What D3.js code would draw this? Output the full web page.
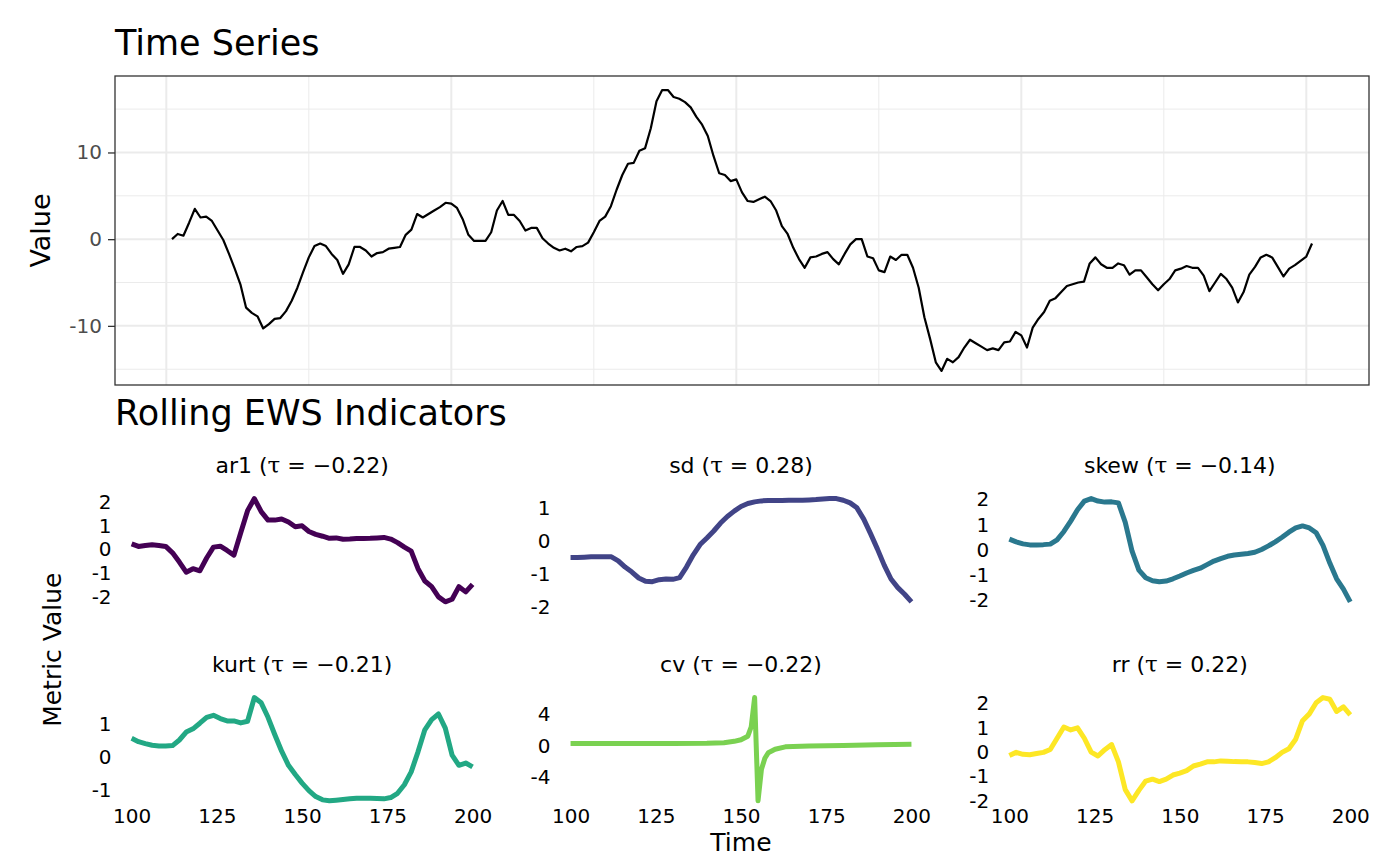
<!DOCTYPE html>
<html>
<head>
<meta charset="utf-8">
<script src="https://cdn.jsdelivr.net/npm/d3@7"></script>
<style>
  body { margin: 0; background: #fff; }
  svg { display: block; font-family: "DejaVu Sans", sans-serif; }
</style>
</head>
<body>
<svg id="chart" width="1400" height="866"></svg>
<script>
// ---- data ----
const tsTime = d3.range(1, 202);
const tsValues = [
  0.0, 0.6, 0.4, 1.9, 3.5, 2.5, 2.6, 2.1, 1.0, -0.1,
  -1.7, -3.4, -5.2, -7.9, -8.5, -8.9, -10.3, -9.8, -9.2, -9.1,
  -8.3, -7.1, -5.6, -3.8, -2.1, -0.8, -0.5, -0.8, -1.7, -2.4,
  -4.0, -2.9, -0.9, -0.9, -1.3, -2.0, -1.6, -1.5, -1.1, -1.0,
  -0.9, 0.5, 1.1, 2.9, 2.5, 2.9, 3.3, 3.7, 4.2, 4.1,
  3.6, 2.3, 0.5, -0.2, -0.2, -0.2, 0.8, 3.3, 4.4, 2.8,
  2.8, 2.1, 1.0, 1.3, 1.3, 0.1, -0.5, -1.0, -1.3, -1.1,
  -1.4, -0.9, -0.8, -0.4, 0.8, 2.1, 2.6, 3.8, 5.7, 7.4,
  8.7, 8.8, 10.2, 10.5, 12.8, 15.9, 17.2, 17.2, 16.4, 16.2,
  15.8, 15.2, 14.1, 13.2, 11.9, 9.6, 7.6, 7.4, 6.7, 6.9,
  5.4, 4.4, 4.3, 4.6, 4.9, 4.4, 3.3, 1.5, 0.6, -1.0,
  -2.3, -3.3, -2.1, -2.0, -1.7, -1.5, -2.3, -2.9, -1.7, -0.6,
  0.0, 0.0, -2.0, -2.2, -3.6, -3.8, -2.0, -2.4, -1.8, -1.8,
  -3.3, -5.6, -9.0, -11.5, -14.2, -15.2, -13.8, -14.2, -13.6, -12.5,
  -11.6, -12.0, -12.4, -12.8, -12.6, -12.8, -11.9, -11.8, -10.7, -11.1,
  -12.5, -10.2, -9.2, -8.4, -7.1, -6.8, -6.1, -5.4, -5.2, -5.0,
  -4.9, -2.8, -2.1, -2.9, -3.3, -3.3, -2.8, -3.0, -4.1, -3.6,
  -3.6, -4.4, -5.2, -5.9, -5.2, -4.6, -3.6, -3.4, -3.1, -3.3,
  -3.3, -4.2, -6.0, -5.0, -4.0, -4.6, -5.6, -7.3, -6.1, -4.1,
  -3.2, -2.1, -1.8, -2.1, -3.2, -4.3, -3.4, -3.0, -2.5, -2.0,
  -0.5
];
const tsYTicks = [-10, 0, 10];
const tsYMinor = [-15, -5, 5, 15];
const tsXTicks = [0, 50, 100, 150, 200];
const tsXMinor = [25, 75, 125, 175];

const ewsTime = d3.range(100, 201, 2);
const ar1Values = [
  0.24, 0.13, 0.17, 0.20, 0.17, 0.13, -0.14, -0.53, -0.96, -0.81,
  -0.90, -0.36, 0.10, 0.14, -0.04, -0.24, 0.71, 1.64, 2.15, 1.60,
  1.24, 1.24, 1.29, 1.16, 0.96, 1.00, 0.76, 0.64, 0.56, 0.47,
  0.49, 0.43, 0.44, 0.46, 0.46, 0.47, 0.49, 0.51, 0.44, 0.29,
  0.10, -0.07, -0.81, -1.33, -1.57, -2.00, -2.21, -2.10, -1.57, -1.79,
  -1.47
];
const sdValues = [
  -0.49, -0.49, -0.48, -0.47, -0.47, -0.47, -0.47, -0.59, -0.78, -0.93,
  -1.11, -1.21, -1.22, -1.16, -1.14, -1.15, -1.10, -0.78, -0.41, -0.10,
  0.10, 0.31, 0.55, 0.75, 0.91, 1.05, 1.14, 1.19, 1.22, 1.23,
  1.23, 1.23, 1.24, 1.24, 1.24, 1.25, 1.26, 1.28, 1.29, 1.29,
  1.24, 1.16, 1.01, 0.67, 0.23, -0.23, -0.72, -1.14, -1.40, -1.60,
  -1.83
];
const skewValues = [
  0.43, 0.32, 0.24, 0.20, 0.20, 0.21, 0.23, 0.40, 0.73, 1.14,
  1.59, 1.93, 2.03, 1.93, 1.89, 1.90, 1.86, 1.09, -0.05, -0.80,
  -1.10, -1.22, -1.26, -1.23, -1.14, -1.03, -0.91, -0.81, -0.72, -0.58,
  -0.44, -0.34, -0.25, -0.20, -0.17, -0.14, -0.09, 0.02, 0.16, 0.32,
  0.50, 0.70, 0.87, 0.95, 0.87, 0.68, 0.18, -0.52, -1.14, -1.55,
  -2.05
];
const kurtValues = [
  0.58, 0.48, 0.42, 0.37, 0.35, 0.35, 0.36, 0.53, 0.77, 0.87,
  1.04, 1.22, 1.28, 1.18, 1.11, 1.11, 1.05, 1.10, 1.82, 1.66,
  1.22, 0.69, 0.19, -0.24, -0.52, -0.78, -1.01, -1.19, -1.29, -1.32,
  -1.30, -1.28, -1.26, -1.24, -1.24, -1.24, -1.25, -1.26, -1.22, -1.09,
  -0.83, -0.44, 0.17, 0.84, 1.15, 1.32, 0.89, 0.07, -0.24, -0.17,
  -0.29
];
const cvTime = [100, 110, 120, 130, 140, 145, 148, 150, 152, 153, 154, 155, 156, 157, 158, 160, 163, 170, 180, 190, 200];
const cvValues = [0.27, 0.27, 0.27, 0.28, 0.30, 0.38, 0.55, 0.75, 1.2, 2.4, 6.1, -7.0, -3.0, -1.6, -0.9, -0.45, -0.15, -0.05, 0.02, 0.10, 0.19];
const rrValues = [
  -0.14, -0.01, -0.09, -0.11, -0.06, -0.01, 0.11, 0.57, 1.03, 0.91,
  1.00, 0.57, 0.00, -0.16, 0.10, 0.31, -0.40, -1.54, -2.00, -1.57,
  -1.19, -1.11, -1.21, -1.11, -0.94, -0.86, -0.76, -0.57, -0.49, -0.40,
  -0.40, -0.36, -0.37, -0.39, -0.40, -0.40, -0.43, -0.47, -0.40, -0.23,
  -0.01, 0.14, 0.53, 1.29, 1.57, 2.03, 2.24, 2.17, 1.67, 1.86,
  1.53
];

const metricNames = ['ar1', 'sd', 'skew', 'kurt', 'cv', 'rr'];
const metricTau = [-0.22, 0.28, -0.14, -0.21, -0.22, 0.22];
const metricColors = ['#440154', '#414487', '#2A788E', '#22A884', '#7AD151', '#FDE725'];
const metricYTicks = [[-2, -1, 0, 1, 2], [-2, -1, 0, 1], [-2, -1, 0, 1, 2], [-1, 0, 1], [-4, 0, 4], [-2, -1, 0, 1, 2]];
const ewsXTicks = [100, 125, 150, 175, 200];

// ---- helpers ----
const svg = d3.select('#chart');

function expand(ext, frac = 0.05) {
  const pad = (ext[1] - ext[0]) * frac;
  return [ext[0] - pad, ext[1] + pad];
}

// ---- top panel: time series ----
const tp = { left: 115, right: 1369, top: 76, bottom: 385 };
const tx = d3.scaleLinear().domain(expand(d3.extent(tsTime))).range([tp.left, tp.right]);
const ty = d3.scaleLinear().domain(expand(d3.extent(tsValues))).range([tp.bottom, tp.top]);

svg.append('text')
  .attr('x', 115).attr('y', 55)
  .attr('font-size', 35)
  .text('Time Series');

const grid = svg.append('g');
grid.selectAll('.hmin').data(tsYMinor).enter().append('line')
  .attr('x1', tp.left).attr('x2', tp.right)
  .attr('y1', d => ty(d)).attr('y2', d => ty(d))
  .attr('stroke', '#EBEBEB').attr('stroke-width', 1);
grid.selectAll('.vmin').data(tsXMinor).enter().append('line')
  .attr('y1', tp.top).attr('y2', tp.bottom)
  .attr('x1', d => tx(d)).attr('x2', d => tx(d))
  .attr('stroke', '#EBEBEB').attr('stroke-width', 1);
grid.selectAll('.hmaj').data(tsYTicks).enter().append('line')
  .attr('x1', tp.left).attr('x2', tp.right)
  .attr('y1', d => ty(d)).attr('y2', d => ty(d))
  .attr('stroke', '#EBEBEB').attr('stroke-width', 2);
grid.selectAll('.vmaj').data(tsXTicks).enter().append('line')
  .attr('y1', tp.top).attr('y2', tp.bottom)
  .attr('x1', d => tx(d)).attr('x2', d => tx(d))
  .attr('stroke', '#EBEBEB').attr('stroke-width', 2);

svg.append('path')
  .datum(tsTime.map((t, i) => [t, tsValues[i]]))
  .attr('fill', 'none')
  .attr('stroke', '#000')
  .attr('stroke-width', 2.2)
  .attr('stroke-linejoin', 'round')
  .attr('d', d3.line().x(d => tx(d[0])).y(d => ty(d[1])));

svg.append('rect')
  .attr('x', tp.left).attr('y', tp.top)
  .attr('width', tp.right - tp.left).attr('height', tp.bottom - tp.top)
  .attr('fill', 'none').attr('stroke', '#333333').attr('stroke-width', 1.3);

const yAxisTop = svg.append('g')
  .attr('transform', `translate(${tp.left},0)`)
  .call(d3.axisLeft(ty).tickValues(tsYTicks).tickSize(7).tickPadding(6).tickFormat(d3.format('d')));
yAxisTop.select('.domain').remove();
yAxisTop.selectAll('line').attr('stroke', '#333333').attr('stroke-width', 1.3);
yAxisTop.selectAll('text')
  .attr('fill', '#4D4D4D')
  .attr('font-size', 20)
  .attr('font-family', '"DejaVu Sans", sans-serif')
  .text(d => String(d));

svg.append('text')
  .attr('transform', `translate(40,${(tp.top + tp.bottom) / 2}) rotate(-90)`)
  .attr('text-anchor', 'middle')
  .attr('dominant-baseline', 'central')
  .attr('font-size', 27)
  .text('Value');

// ---- bottom facets: rolling indicators ----
svg.append('text')
  .attr('x', 115).attr('y', 425)
  .attr('font-size', 35)
  .text('Rolling EWS Indicators');

const metricSeries = [
  { t: ewsTime, v: ar1Values },
  { t: ewsTime, v: sdValues },
  { t: ewsTime, v: skewValues },
  { t: ewsTime, v: kurtValues },
  { t: cvTime, v: cvValues },
  { t: ewsTime, v: rrValues }
];

const colLeft = [114.6, 553.5, 992.3];
const rowTop = [493.4, 692.4];
const panelW = 375;
const panelH = 113.6;
const fmtTau = d3.format('.2f');

metricNames.forEach((name, i) => {
  const col = i % 3;
  const row = Math.floor(i / 3);
  const left = colLeft[col];
  const topY = rowTop[row];
  const s = metricSeries[i];
  const x = d3.scaleLinear().domain([95, 205]).range([left, left + panelW]);
  const y = d3.scaleLinear().domain(expand(d3.extent(s.v))).range([topY + panelH, topY]);
  const g = svg.append('g');

  // strip title, tau drawn in a serif face like plotmath does
  const title = g.append('text')
    .attr('x', left + panelW / 2)
    .attr('y', topY - 20)
    .attr('text-anchor', 'middle')
    .attr('font-size', 22);
  title.append('tspan').text(name + ' (');
  title.append('tspan').attr('font-family', '"DejaVu Serif", serif').attr('font-size', 23).text('τ');
  title.append('tspan').text(' = ' + fmtTau(metricTau[i]) + ')');

  const yAx = g.append('g')
    .attr('transform', `translate(${left},0)`)
    .call(d3.axisLeft(y).tickValues(metricYTicks[i]).tickSize(0).tickPadding(3).tickFormat(d3.format('d')));
  yAx.select('.domain').remove();
  yAx.selectAll('text')
    .attr('fill', '#000')
    .attr('font-size', 20)
    .attr('font-family', '"DejaVu Sans", sans-serif')
    .text(d => String(d));

  if (row === 1) {
    const xAx = g.append('g')
      .attr('transform', `translate(0,${topY + panelH})`)
      .call(d3.axisBottom(x).tickValues(ewsXTicks).tickSize(0).tickPadding(3).tickFormat(d3.format('d')));
    xAx.select('.domain').remove();
    xAx.selectAll('text')
      .attr('fill', '#000')
      .attr('font-size', 20)
      .attr('font-family', '"DejaVu Sans", sans-serif');
  }

  g.append('path')
    .datum(s.t.map((t, k) => [t, s.v[k]]))
    .attr('fill', 'none')
    .attr('stroke', metricColors[i])
    .attr('stroke-width', 5)
    .attr('stroke-linejoin', 'round')
    .attr('d', d3.line().x(d => x(d[0])).y(d => y(d[1])));
});

svg.append('text')
  .attr('x', (colLeft[0] + colLeft[2] + panelW) / 2)
  .attr('y', 851)
  .attr('text-anchor', 'middle')
  .attr('font-size', 25)
  .text('Time');

svg.append('text')
  .attr('transform', `translate(52,${(rowTop[0] + rowTop[1] + panelH) / 2}) rotate(-90)`)
  .attr('text-anchor', 'middle')
  .attr('dominant-baseline', 'central')
  .attr('font-size', 25)
  .text('Metric Value');
</script>
</body>
</html>
